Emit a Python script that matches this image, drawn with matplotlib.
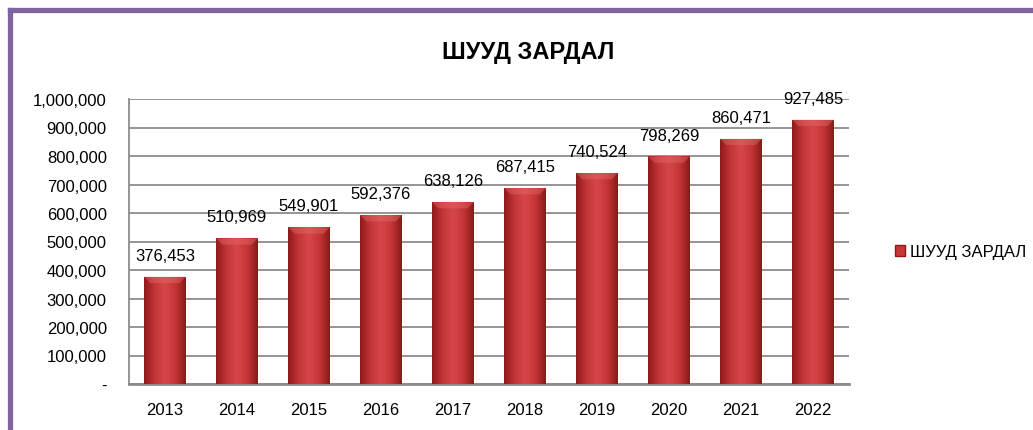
import numpy as np
import matplotlib
matplotlib.use('Agg')
import matplotlib.pyplot as plt
from matplotlib.colors import LinearSegmentedColormap
from matplotlib.lines import Line2D
from matplotlib.patches import Patch
from matplotlib.ticker import FuncFormatter

years = ['2013', '2014', '2015', '2016', '2017', '2018', '2019', '2020', '2021', '2022']
values = [376453, 510969, 549901, 592376, 638126, 687415, 740524, 798269, 860471, 927485]
series_name = 'ШУУД ЗАРДАЛ'
title = 'ШУУД ЗАРДАЛ'

plt.rcParams['font.family'] = ['Liberation Sans', 'DejaVu Sans']

fig = plt.figure(figsize=(10.33, 4.31), dpi=100)
ax = fig.add_axes([129/1033, 1 - 385/431, 720/1033, 285/431])

x = np.arange(len(years))
bars = ax.bar(x, values, width=0.58, color='#C83838', edgecolor='none', zorder=2)

# horizontal gradient inside each bar
cmap = LinearSegmentedColormap.from_list('redbar', ['#8E1A1A', '#C43535', '#D64848', '#C43535', '#8A1818'])
grad = np.linspace(0, 1, 256).reshape(1, -1)
for b in bars:
    bx, by, bw, bh = b.get_x(), b.get_y(), b.get_width(), b.get_height()
    im = ax.imshow(grad, cmap=cmap, aspect='auto', extent=[bx, bx + bw, by, by + bh],
                   zorder=3, interpolation='bicubic')
    im.set_clip_path(b)
    # lighter bevel at the top
    inset = bw * 0.15
    ax.fill([bx, bx + bw, bx + bw - inset, bx + inset], [by + bh, by + bh, by + bh - 22000, by + bh - 22000],
            color='#E46A6A', alpha=0.45, zorder=4, linewidth=0)

ax.set_xlim(-0.5, len(years) - 0.5)
ax.set_ylim(0, 1000000)
ax.set_yticks(np.arange(0, 1000001, 100000))
ax.yaxis.set_major_formatter(FuncFormatter(lambda v, p: '-' if v == 0 else f'{int(v):,}'))
ax.set_xticks(x)
ax.set_xticklabels(years)
ax.tick_params(axis='y', length=0, pad=16, labelsize=12)
ax.tick_params(axis='x', length=0, pad=13, labelsize=12)
ax.grid(axis='y', color='#8C8C8C', linewidth=1.3, zorder=0)
ax.set_axisbelow(True)
for s in ['top', 'right']:
    ax.spines[s].set_visible(False)
ax.spines['left'].set_color('#8C8C8C')
ax.spines['bottom'].set_color('#8C8C8C')
ax.spines['left'].set_linewidth(1.3)
ax.spines['bottom'].set_linewidth(2)

for xi, v in zip(x, values):
    ax.annotate(f'{v:,}', (xi, v), xytext=(0, 10), textcoords='offset points',
                ha='center', va='bottom', fontsize=12, zorder=5)

fig.text(528/1033, 1 - 53/431, title, ha='center', va='center', fontsize=17, fontweight='bold')

leg = ax.legend(handles=[Patch(facecolor='#C83838', edgecolor='#8E1A1A', label=series_name)],
                loc='center left', bbox_to_anchor=(887/1033, 1 - 253/431),
                bbox_transform=fig.transFigure, frameon=False, fontsize=12,
                handlelength=0.6, handleheight=0.6, handletextpad=0.3, borderpad=0)

# purple chart frame
fig.add_artist(Line2D([9.5/1033, 9.5/1033], [0, 1 - 10.5/431], transform=fig.transFigure,
                      color='#8064A2', linewidth=3.8, solid_capstyle='projecting'))
fig.add_artist(Line2D([9.5/1033, 1], [1 - 10.5/431, 1 - 10.5/431], transform=fig.transFigure,
                      color='#8064A2', linewidth=3.8, solid_capstyle='projecting'))

fig.savefig('out.png', dpi=100)
